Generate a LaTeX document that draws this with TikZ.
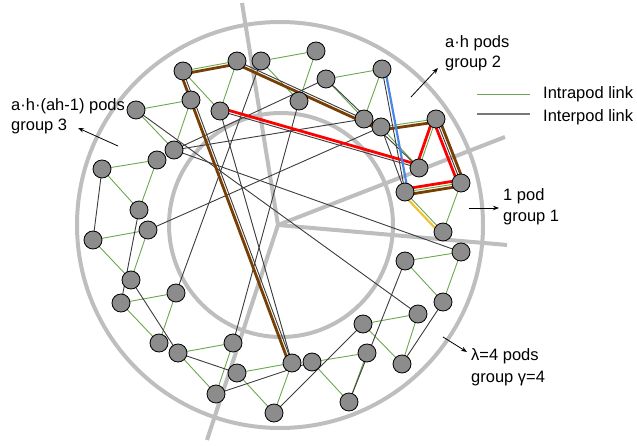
\documentclass[tikz,border=0pt]{standalone}
\usepackage{fontspec}
\setmainfont{Liberation Sans}
\usetikzlibrary{calc,arrows.meta}
\definecolor{ringgray}{RGB}{190,190,190}
\definecolor{podgreen}{RGB}{106,168,79}
\definecolor{linkgray}{RGB}{60,60,60}
\definecolor{legendgray}{RGB}{120,120,120}
\definecolor{nodefill}{RGB}{140,140,140}
\definecolor{pathred}{RGB}{255,0,0}
\definecolor{pathbrown}{RGB}{120,63,4}
\definecolor{pathblue}{RGB}{74,134,232}
\definecolor{pathorange}{RGB}{241,194,50}
\begin{document}
\begin{tikzpicture}[x=1pt,y=-1pt,
  ring/.style={draw=ringgray,line width=4pt},
  sw/.style={circle,draw=black,fill=nodefill,line width=0.8pt,minimum size=18pt,inner sep=0pt},
  intra/.style={draw=podgreen,line width=0.9pt},
  inter/.style={draw=linkgray,line width=0.9pt},
  hl/.style={line width=2.8pt,line cap=round},
  lbl/.style={font=\fontsize{16.5}{20}\selectfont,anchor=base west,inner sep=0pt},
  ptr/.style={-{Stealth[length=6pt,width=4.5pt]},line width=0.8pt}]
\useasboundingbox (0,0) rectangle (637,446);

% group rings and sector borders
\coordinate (hub) at (278,225);
\draw[ring] (280,225) circle[radius=203pt];
\draw[ring] (281,225) circle[radius=112pt];
\coordinate (cutN) at (242,3);
\coordinate (cutSW) at (207,440);
\coordinate (cutNE) at (505,137);
\coordinate (cutE) at (507,245);
\draw[ring] (hub) -- (cutN);
\draw[ring] (hub) -- (cutSW);
\draw[ring] (hub) -- (cutNE);
\draw[ring] (hub) -- (cutE);

% switch positions
\coordinate (A) at (183,71);
\coordinate (B) at (237,61);
\coordinate (C) at (261,61);
\coordinate (D) at (316,51);
\coordinate (E) at (326,79);
\coordinate (F) at (191,100);
\coordinate (G) at (220,111);
\coordinate (H) at (299,101);
\coordinate (AS) at (136,110);
\coordinate (I) at (174,150);
\coordinate (J) at (157,160);
\coordinate (AV) at (102,169);
\coordinate (AM) at (139,210);
\coordinate (AN) at (148,230);
\coordinate (AO) at (93,240);
\coordinate (AP) at (131,280);
\coordinate (AQ) at (121,303);
\coordinate (AR) at (176,293);
\coordinate (AF) at (159,343);
\coordinate (AG) at (178,353);
\coordinate (AH) at (233,343);
\coordinate (AI) at (237,373);
\coordinate (AJ) at (216,394);
\coordinate (AC) at (292,363);
\coordinate (AD) at (312,362);
\coordinate (AL) at (274,413);
\coordinate (AE) at (349,402);
\coordinate (AA) at (367,353);
\coordinate (Z) at (363,324);
\coordinate (AB) at (402,364);
\coordinate (Y) at (418,314);
\coordinate (T) at (405,261);
\coordinate (U) at (443,302);
\coordinate (S) at (461,252);
\coordinate (R) at (443,232);
\coordinate (P) at (461,183);
\coordinate (Q) at (405,192);
\coordinate (O) at (419,168);
\coordinate (N) at (436,119);
\coordinate (M) at (381,127);
\coordinate (L) at (364,119);
\coordinate (K) at (382,69);

% intrapod links (one triangle per pod)
\foreach \u/\v in {A/B,B/G,A/G, C/D,D/H,C/H, AS/F,F/I,AS/I, AV/J,J/AM,AV/AM,
  AO/AN,AN/AP,AO/AP, AQ/AR,AR/AF,AQ/AF, AG/AH,AH/AJ,AG/AJ, AI/AC,AC/AL,AI/AL,
  AD/AA,AA/AE,AD/AE, Z/Y,Y/AB,Z/AB, T/U,U/S,T/S, P/Q,P/R,Q/R, M/N,N/O,M/O,
  E/K,K/L,E/L}
  \draw[intra] (\u) -- (\v);

% interpod links
\foreach \u/\v in {A/AC,G/O,K/Q,N/P,B/M,AV/AO,AM/AQ,AP/AG,AN/M,I/L,AR/C,AG/AI,
  AJ/AD,AL/Z,AB/U,AE/T,AS/Y,I/S,H/AH,I/E,E/O,G/AC,M/Q}
  \draw[inter] (\u) -- (\v);

% highlighted routes
\draw[hl,pathbrown] ($(A)!3pt!-90:(AC)$) -- ($(AC)!3pt!90:(A)$);
\draw[hl,pathbrown] ($(A)!3pt!-90:(B)$) -- ($(B)!3pt!90:(A)$);
\draw[hl,pathbrown] ($(B)!3pt!-90:(M)$) -- ($(M)!3pt!90:(B)$);
\draw[hl,pathbrown] ($(M)!3pt!-90:(N)$) -- ($(N)!3pt!90:(M)$);
\draw[hl,pathbrown] ($(N)!3pt!90:(P)$) -- ($(P)!3pt!-90:(N)$);
\draw[hl,pathbrown] ($(P)!3pt!90:(Q)$) -- ($(Q)!3pt!-90:(P)$);
\draw[hl,pathred] ($(G)!3pt!90:(O)$) -- ($(O)!3pt!-90:(G)$);
\draw[hl,pathred] ($(O)!3pt!90:(N)$) -- ($(N)!3pt!-90:(O)$);
\draw[hl,pathred] ($(N)!3pt!-90:(P)$) -- ($(P)!3pt!90:(N)$);
\draw[hl,pathred] ($(P)!3pt!-90:(Q)$) -- ($(Q)!3pt!90:(P)$);
\draw[hl,pathblue,line width=2.2pt] ($(K)!3pt!90:(Q)$) -- ($(Q)!3pt!-90:(K)$);
\draw[hl,pathorange,line width=2.2pt] ($(Q)!3pt!-90:(R)$) -- ($(R)!3pt!90:(Q)$);

% switches
\foreach \n in {A,B,C,D,E,F,G,H,AS,I,J,AV,AM,AN,AO,AP,AQ,AR,AF,AG,AH,AI,AJ,AC,AD,
  AL,AE,AA,Z,AB,Y,T,U,S,R,P,Q,O,N,M,L,K}
  \node[sw] (s\n) at (\n) {};

% group labels
\node[lbl] (g2a) at (445,48) {a·h pods};
\node[lbl] (g2b) at (445,68) {group 2};
\node[lbl] (g3a) at (11,111) {a·h·(ah-1) pods};
\node[lbl] (g3b) at (11,131) {group 3};
\node[lbl] (g1a) at (503,201) {1 pod};
\node[lbl] (g1b) at (503,222) {group 1};
\node[lbl] (g4a) at (471,360) {λ=4 pods};
\node[lbl] (g4b) at (471,382) {group γ=4};
\coordinate (p2) at (411,97);
\coordinate (p3) at (118,146);
\coordinate (p1) at (469,208);
\coordinate (p4) at (443,337);
\draw[ptr] (p2) -- (438,68);
\draw[ptr] (p3) -- (78,128);
\draw[ptr] (p1) -- (499,208);
\draw[ptr] (p4) -- (467,352);

% legend
\coordinate (lg1) at (477,94);
\coordinate (lg2) at (530,94);
\coordinate (lk1) at (477,114);
\coordinate (lk2) at (530,114);
\draw[intra] (lg1) -- (lg2);
\draw[draw=legendgray,line width=1.6pt] (lk1) -- (lk2);
\node[lbl] (lgt) at (543,99) {Intrapod link};
\node[lbl] (lkt) at (543,122) {Interpod link};
\end{tikzpicture}
\end{document}
